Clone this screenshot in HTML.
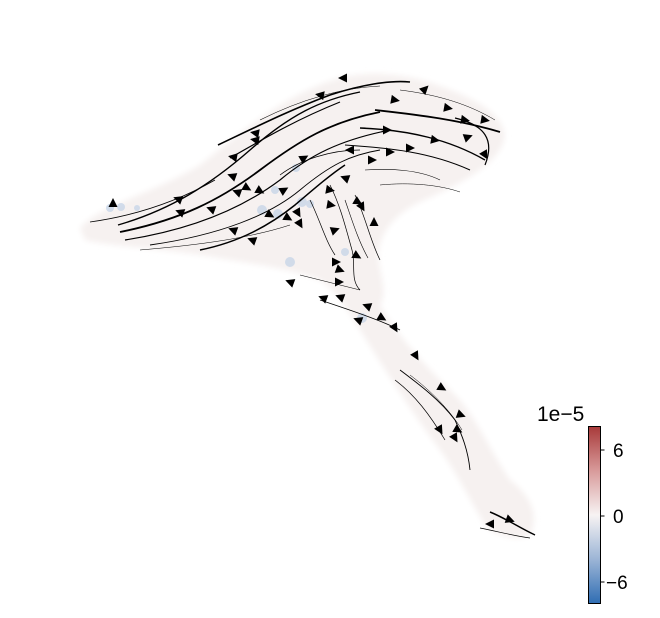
<!DOCTYPE html>
<html><head><meta charset="utf-8"><style>
html,body{margin:0;padding:0;background:#fff;}
svg{display:block;font-family:"Liberation Sans","DejaVu Sans",sans-serif;}
</style></head><body>
<svg width="660" height="618" viewBox="0 0 660 618">
<defs>
<linearGradient id="cb" x1="0" y1="1" x2="0" y2="0">
<stop offset="0" stop-color="#2f6db3"/><stop offset="0.25" stop-color="#9cb5d6"/>
<stop offset="0.5" stop-color="#f7f3f3"/><stop offset="0.75" stop-color="#d89a9a"/>
<stop offset="1" stop-color="#a83a3a"/></linearGradient>
<filter id="bl"><feGaussianBlur stdDeviation="3"/></filter>
</defs>
<g>
<path filter="url(#bl)" fill="#f6f1f0" d="M80,228 C100,205 150,195 200,165 C250,125 290,92 340,78 C370,70 410,74 440,86 C480,100 508,118 504,140 C498,162 470,180 420,202 C395,214 380,232 378,255 C380,275 388,292 380,305 C400,340 430,370 460,400 C480,425 490,450 510,480 C530,495 540,515 530,535 C515,542 495,535 485,525 C470,500 455,470 440,450 C410,410 385,370 360,330 C345,305 335,290 320,280 C290,268 240,262 200,255 C150,248 110,246 85,240 Z"/>
<g fill="#b9cde6" opacity="0.6">
<circle cx="110" cy="208" r="4"/><circle cx="121" cy="207" r="4"/><circle cx="137" cy="208" r="3"/>
<circle cx="262" cy="210" r="5"/><circle cx="278" cy="214" r="5"/><circle cx="302" cy="202" r="5"/><circle cx="310" cy="204" r="4"/>
<circle cx="275" cy="190" r="4"/><circle cx="296" cy="168" r="4"/><circle cx="290" cy="262" r="5"/><circle cx="362" cy="318" r="5"/><circle cx="345" cy="252" r="4"/>
</g></g>
<g fill="none" stroke="#000">
<path stroke-width="1.4" d="M118,225 C170,210 210,185 250,150 C290,115 320,100 360,92"/>
<path stroke-width="1.8" d="M120,232 C180,220 220,200 260,170 C300,140 330,122 380,112"/>
<path stroke-width="1.2" d="M125,240 C190,230 240,210 280,180 C310,155 340,140 390,130"/>
<path stroke-width="0.9" d="M150,245 C220,235 270,215 300,190 C330,165 350,155 380,150"/>
<path stroke-width="1.5" d="M200,250 C240,242 270,225 295,205 C315,188 330,175 345,165"/>
<path stroke-width="0.8" d="M90,222 C140,215 180,200 215,180"/>
<path stroke-width="0.6" d="M140,250 C200,245 250,238 290,225"/>
<path stroke-width="1.6" d="M218,145 C260,125 290,110 330,95 C360,85 390,80 410,82"/>
<path stroke-width="1.2" d="M230,158 C270,135 300,118 340,102"/>
<path stroke-width="0.6" d="M260,120 C300,100 340,88 380,86"/>
<path stroke-width="1.8" d="M375,110 C420,115 460,120 500,132"/>
<path stroke-width="1.4" d="M360,128 C410,130 450,140 485,160"/>
<path stroke-width="1" d="M345,145 C390,148 430,152 470,170"/>
<path stroke-width="1.2" d="M455,118 C485,125 495,140 485,165"/>
<path stroke-width="0.5" d="M400,90 C440,95 470,105 495,120"/>
<path stroke-width="0.7" d="M330,185 C340,205 345,225 352,250 C356,265 350,280 360,290"/>
<path stroke-width="0.7" d="M355,195 C365,215 370,240 380,260"/>
<path stroke-width="0.7" d="M310,200 C320,220 325,240 335,255"/>
<path stroke-width="0.6" d="M345,200 C352,220 358,240 368,258"/>
<path stroke-width="0.7" d="M280,175 C300,160 330,150 360,150"/>
<path stroke-width="0.6" d="M365,170 C390,168 420,170 440,180"/>
<path stroke-width="0.5" d="M380,185 C410,182 440,185 460,192"/>
<path stroke-width="0.8" d="M320,300 C350,310 380,320 400,330"/>
<path stroke-width="0.6" d="M300,275 C320,280 340,285 360,290"/>
<path stroke-width="0.9" d="M400,370 C420,385 440,400 455,420 C462,435 468,450 470,470"/>
<path stroke-width="0.7" d="M395,380 C415,395 430,415 445,440"/>
<path stroke-width="0.5" d="M410,375 C430,390 450,410 462,430"/>
<path stroke-width="1.5" d="M490,512 C505,518 520,528 535,535"/>
<path stroke-width="0.7" d="M480,528 C500,532 515,536 530,538"/>
</g>
<g id="arrows"></g>
<g>
<rect x="588.5" y="426.5" width="12" height="177" fill="url(#cb)" stroke="#000" stroke-width="1"/>
<g stroke="#000" stroke-width="1"><line x1="600.5" y1="450" x2="604.5" y2="450"/><line x1="600.5" y1="516" x2="604.5" y2="516"/><line x1="600.5" y1="582" x2="604.5" y2="582"/></g>
<g font-size="19" fill="#000">
<text x="613" y="457">6</text>
<text x="613" y="523">0</text>
<text x="606" y="589">−6</text>
<text x="537" y="421" font-size="21">1e−5</text>
</g></g>
</svg>
<script>
const arrowX=[343,320,425,395,448,465,485,255,255,233,387,435,468,485,350,372,390,410,304,232,178,113,180,211,237,247,260,284,270,288,298,300,330,331,345,358,362,374,233,252,335,357,336,340,339,290,323,340,367,382,358,395,416,442,461,440,458,455,510,490];
const arrowY=[78,95,89,100,108,120,120,133,140,157,130,140,137,155,150,160,152,148,158,176,199,203,212,209,192,188,191,190,215,218,213,224,190,205,178,202,207,222,230,240,230,256,262,270,282,282,298,297,306,318,320,328,356,388,415,430,430,438,520,524];
const arrowDir=[180,190,-45,10,10,10,10,190,190,190,0,10,-20,60,180,0,0,0,-30,200,200,-90,200,200,200,30,30,-30,30,30,60,60,10,10,200,30,60,-90,200,200,-20,30,0,20,0,200,200,200,200,30,200,60,60,30,20,60,30,60,20,180];
const g=document.getElementById('arrows');
for(let i=0;i<arrowX.length;i++){
 const p=document.createElementNS('http://www.w3.org/2000/svg','polygon');
 p.setAttribute('points','5,0 -4,-4.5 -4,4.5');
 p.setAttribute('transform','translate('+arrowX[i]+','+arrowY[i]+') rotate('+arrowDir[i]+')');
 p.setAttribute('fill','#000');
 
 
 g.appendChild(p);
}
</script>
</body></html>
